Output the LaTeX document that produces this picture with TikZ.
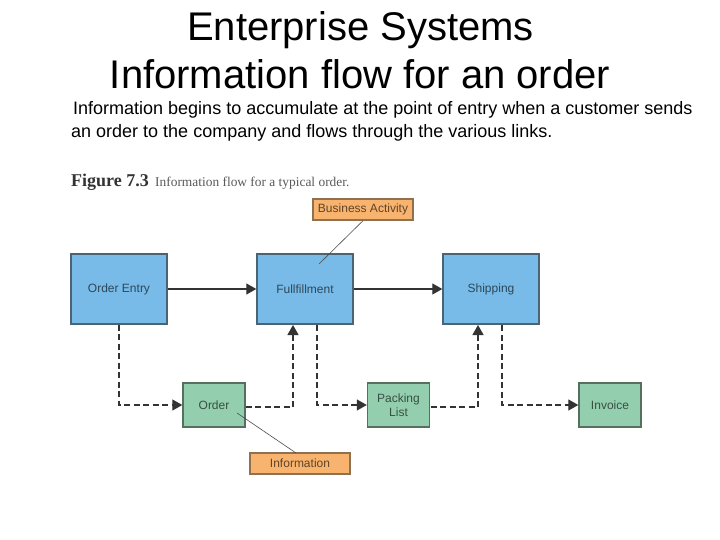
\documentclass[tikz,border=0pt]{standalone}
\usepackage{fontspec}
\setmainfont{Liberation Sans}
\newfontfamily\capserif{Liberation Serif}
\usetikzlibrary{arrows.meta}
\definecolor{bluebox}{HTML}{78BBE8}
\definecolor{greenbox}{HTML}{93CFAF}
\definecolor{orangebox}{HTML}{F8B46E}
\definecolor{inkd}{HTML}{333333}
\definecolor{edgeb}{HTML}{4A6475}
\definecolor{edgeg}{HTML}{55705F}
\definecolor{edgeo}{HTML}{8F7050}
\tikzset{
  x=1pt,y=-1pt,
  box/.style={draw=#1,line width=1.4pt,inner sep=0pt,align=center,font=\fontsize{12}{14.5}\selectfont},
  act/.style={box=edgeb,fill=bluebox,minimum width=96pt,minimum height=70pt,text=black!62!bluebox},
  doc/.style={box=edgeg,fill=greenbox,minimum width=62pt,minimum height=44pt,text=black!62!greenbox},
  tag/.style={box=edgeo,fill=orangebox,minimum width=100pt,minimum height=21pt,text=black!62!orangebox},
  flow/.style={draw=inkd,line width=1.3pt,-{Triangle[length=10pt,width=11pt]}},
  dflow/.style={flow,dash pattern=on 6pt off 3.5pt},
  lead/.style={draw=black!70,line width=0.6pt},
  title/.style={font=\fontsize{40}{48}\selectfont,inner sep=0pt,anchor=base},
  body/.style={font=\fontsize{18}{22}\selectfont,inner sep=0pt,anchor=base west}
}
\begin{document}
\begin{tikzpicture}
\useasboundingbox (0,0) rectangle (720,540);
\fill[white] (0,0) rectangle (720,540);
\node[title] (t1) at (360.5,41) {Enterprise Systems};
\node[title] (t2) at (360,89) {Information flow for an order};
\node[body] (b1) at (73,115) {Information begins to accumulate at the point of entry when a customer sends};
\node[body] (b2) at (71,138) {an order to the company and flows through the various links.};
\node[inner sep=0pt,anchor=base west,font=\capserif\bfseries\fontsize{18}{20}\selectfont,text=black!80] (c1) at (71,187) {Figure 7.3};
\node[inner sep=0pt,anchor=base west,font=\capserif\fontsize{13.4}{15}\selectfont,text=black!65] (c2) at (155,187) {Information flow for a typical order.};
\node[act] (oe) at (119,289) {Order Entry};
\node[act] (ful) at (305,289) {Fullfillment};
\node[act] (shp) at (491,289) {Shipping};
\node[doc] (ord) at (214,405) {Order};
\node[doc] (pl) at (398.5,405) {Packing\\List};
\node[doc] (inv) at (610,405) {Invoice};
\node[tag] (ba) at (363,209.5) {Business Activity};
\node[tag] (inf) at (300,463.5) {Information};
\coordinate (fin) at (293,325);
\coordinate (fout) at (317,325);
\coordinate (sin) at (478,325);
\coordinate (sout) at (502,325);
\coordinate (baend) at (319,264);
\coordinate (ordend) at (237,413);
\coordinate (infend) at (296,453);
\coordinate (ordr) at (245.5,407);
\coordinate (plr) at (430.5,407);
\draw[flow] (oe) -- (ful);
\draw[flow] (ful) -- (shp);
\draw[dflow] (oe.south) |- (ord.west);
\draw[dflow] (ordr) -| (fin);
\draw[dflow] (fout) |- (pl.west);
\draw[dflow] (plr) -| (sin);
\draw[dflow] (sout) |- (inv.west);
\draw[lead] (ba.south) -- (baend);
\draw[lead] (ordend) -- (infend);
\end{tikzpicture}
\end{document}
